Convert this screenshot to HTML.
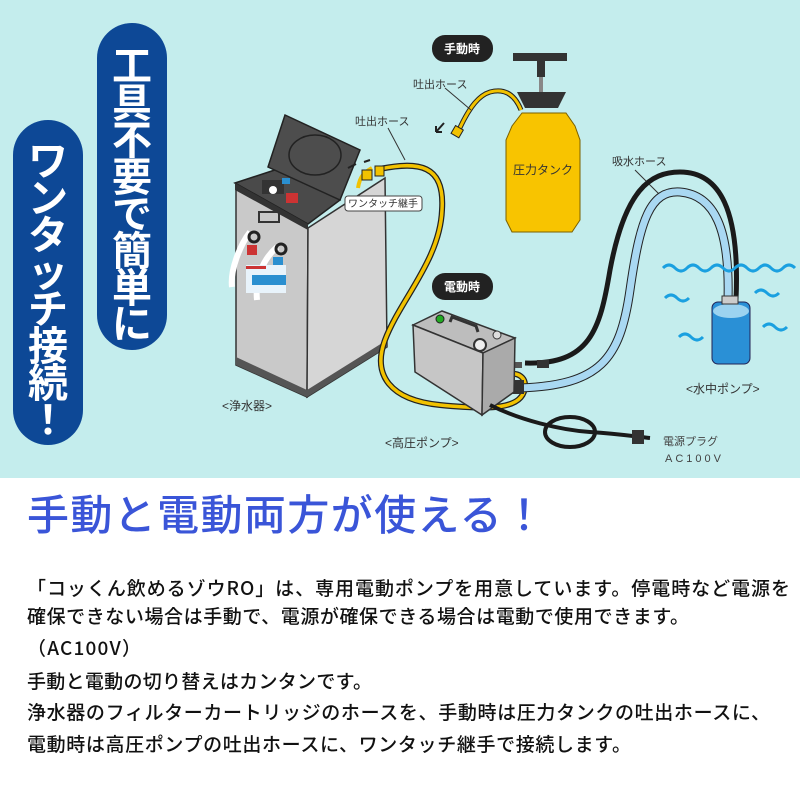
<!DOCTYPE html>
<html><head><meta charset="utf-8"><style>
html,body{margin:0;padding:0;background:#fff;}
svg{display:block}
</style></head><body>
<svg width="800" height="800" viewBox="0 0 800 800" xmlns="http://www.w3.org/2000/svg" font-family="Liberation Sans, Noto Sans CJK JP, sans-serif">
<rect x="0" y="0" width="800" height="478" fill="#c4eded"/>
<rect x="0" y="478" width="800" height="322" fill="#fff"/>

<rect x="97" y="23" width="70" height="327" rx="35" fill="#0d4896"/>
<rect x="13" y="120" width="70" height="325" rx="35" fill="#0d4896"/>
<g fill="#fff" font-size="40" font-weight="bold" text-anchor="middle" font-family="Noto Sans CJK JP, sans-serif">
<text x="132" y="80">工</text><text x="132" y="117">具</text><text x="132" y="154">不</text><text x="132" y="191">要</text><text x="132" y="228">で</text><text x="132" y="265">簡</text><text x="132" y="302">単</text><text x="132" y="338">に</text>
<text x="48" y="175">ワ</text><text x="48" y="212">ン</text><text x="48" y="249">タ</text><text x="48" y="286">ッ</text><text x="48" y="323">チ</text><text x="48" y="360">接</text><text x="48" y="397">続</text><text x="48" y="434">！</text>
</g>

<polygon points="236,188 308,228 307,397 236,365" fill="#c9c9c9" stroke="#333" stroke-width="1.5"/>
<polygon points="308,228 385,178 387,347 307,397" fill="#d6d6d6" stroke="#333" stroke-width="1.5"/>
<polygon points="236,357 307,390 307,397 236,365" fill="#555"/>
<polygon points="307,390 387,340 387,347 307,397" fill="#555"/>
<polygon points="235,183 290,165 340,200 308,224" fill="#4a4a4a" stroke="#222" stroke-width="1.5"/>
<polygon points="235,183 308,224 308,230 235,190" fill="#333"/>
<polygon points="268,167 285,115 360,150 340,200" fill="#4d4d4d" stroke="#222" stroke-width="1.5"/>
<ellipse cx="315" cy="155" rx="26" ry="20" fill="none" stroke="#222" stroke-width="1.5"/>
<rect x="262" y="180" width="22" height="14" fill="#333"/>
<circle cx="273" cy="190" r="4" fill="#fff"/>
<rect x="282" y="178" width="8" height="6" fill="#2a8fd0"/>
<rect x="286" y="193" width="12" height="10" fill="#c33"/>
<rect x="259" y="212" width="20" height="10" fill="none" stroke="#333" stroke-width="2"/>
<path d="M232,287 C230,270 240,245 250,232" stroke="#fff" stroke-width="6" fill="none"/>
<path d="M257,300 C255,280 262,260 277,247" stroke="#fff" stroke-width="6" fill="none"/>
<circle cx="254" cy="237" r="5" fill="none" stroke="#222" stroke-width="3"/>
<circle cx="281" cy="249" r="5" fill="none" stroke="#222" stroke-width="3"/>
<rect x="247" y="245" width="10" height="10" fill="#c33"/>
<rect x="273" y="257" width="10" height="10" fill="#2a8fd0"/>
<rect x="246" y="265" width="40" height="28" fill="#e8f3fb"/>
<rect x="252" y="275" width="34" height="10" fill="#2a8fd0"/>
<rect x="246" y="266" width="20" height="3" fill="#c33"/>

<path d="M375,170 C420,160 445,165 442,210 C440,260 400,300 385,340 C372,375 390,400 440,405 C490,410 525,410 525,385 C525,370 500,368 488,392" stroke="#222" stroke-width="6" fill="none"/>
<path d="M375,170 C420,160 445,165 442,210 C440,260 400,300 385,340 C372,375 390,400 440,405 C490,410 525,410 525,385 C525,370 500,368 488,392" stroke="#f2c200" stroke-width="3.5" fill="none"/>
<path d="M358,188 C360,175 365,172 372,168" stroke="#f2c200" stroke-width="4" fill="none"/>
<rect x="362" y="170" width="10" height="10" fill="#f2c200" stroke="#222"/>
<rect x="375" y="166" width="9" height="10" fill="#f2c200" stroke="#222"/>
<path d="M458,132 C470,105 480,95 490,92 C505,88 515,95 521,110" stroke="#222" stroke-width="5" fill="none"/>
<path d="M458,132 C470,105 480,95 490,92 C505,88 515,95 521,110" stroke="#f2c200" stroke-width="3" fill="none"/>
<rect x="453" y="127" width="9" height="9" fill="#f2c200" stroke="#222" transform="rotate(30 457 131)"/>
<path d="M444,123 L436,132 M436,132 l0,-6 M436,132 l6,0" stroke="#222" stroke-width="2" fill="none"/>
<path d="M348,168 l8,-4 M370,160 l-6,2" stroke="#222" stroke-width="2"/>
<line x1="388" y1="128" x2="405" y2="160" stroke="#333"/>
<line x1="445" y1="88" x2="471" y2="110" stroke="#333"/>

<rect x="513" y="53" width="54" height="8" fill="#333"/>
<rect x="537" y="61" width="8" height="16" fill="#333"/>
<rect x="539" y="77" width="4" height="16" fill="#888"/>
<polygon points="517,92 566,92 558,108 525,108" fill="#333"/>
<path d="M522,113 L566,113 L575,126 L580,140 L580,220 L572,232 L512,232 L506,220 L506,140 L512,126 Z" fill="#f8c400" stroke="#7a6000" stroke-width="1"/>
<text x="543" y="174" font-size="12" text-anchor="middle" fill="#333">圧力タンク</text>

<rect x="432" y="35" width="61" height="27" rx="13" fill="#222"/>
<text x="462" y="53" font-size="12" font-weight="bold" fill="#fff" text-anchor="middle">手動時</text>
<rect x="432" y="273" width="61" height="27" rx="13" fill="#222"/>
<text x="462" y="291" font-size="12" font-weight="bold" fill="#fff" text-anchor="middle">電動時</text>
<text x="413" y="88" font-size="11" fill="#333">吐出ホース</text>
<text x="355" y="125" font-size="11" fill="#333">吐出ホース</text>
<rect x="345" y="196" width="77" height="15" rx="3" fill="#fff" stroke="#444"/>
<text x="383" y="207" font-size="10" fill="#333" text-anchor="middle">ワンタッチ継手</text>
<text x="612" y="165" font-size="11" fill="#333">吸水ホース</text>
<line x1="635" y1="170" x2="660" y2="195" stroke="#333"/>

<path d="M525,363 C590,365 600,330 610,270 C625,190 650,172 680,172 C720,172 740,210 736,300" stroke="#1a1a1a" stroke-width="5" fill="none"/>
<path d="M520,388 C600,385 620,360 630,290 C640,220 650,190 680,192 C715,195 730,230 728,300" stroke="#222" stroke-width="9" fill="none"/>
<path d="M520,388 C600,385 620,360 630,290 C640,220 650,190 680,192 C715,195 730,230 728,300" stroke="#a9d8f2" stroke-width="7" fill="none"/>
<rect x="537" y="360" width="12" height="8" fill="#333"/>
<rect x="512" y="362" width="10" height="6" fill="#555"/>
<rect x="512" y="380" width="12" height="14" fill="#333"/>

<polygon points="413,325 442,311 515,338 483,353" fill="#bdbdbd" stroke="#333" stroke-width="1.5"/>
<polygon points="413,325 483,353 482,415 415,372" fill="#c6c6c6" stroke="#333" stroke-width="1.5"/>
<polygon points="483,353 515,338 514,392 482,415" fill="#aaa" stroke="#333" stroke-width="1.5"/>
<circle cx="440" cy="319" r="4" fill="#2a2" stroke="#222"/>
<path d="M450,322 L452,317 L476,326 L478,332" stroke="#333" stroke-width="3" fill="none"/>
<circle cx="480" cy="345" r="6" fill="#eee" stroke="#333" stroke-width="2"/>
<circle cx="497" cy="335" r="4" fill="#ddd" stroke="#333"/>
<path d="M490,405 C520,420 560,430 590,432 C620,434 640,437 650,438" stroke="#1a1a1a" stroke-width="4" fill="none"/>
<ellipse cx="570" cy="432" rx="25" ry="15" fill="none" stroke="#1a1a1a" stroke-width="4"/>
<rect x="632" y="430" width="12" height="14" fill="#333"/>
<text x="663" y="445" font-size="11" fill="#444">電源プラグ</text>
<text x="665" y="462" font-size="11" fill="#444" letter-spacing="3">AC100V</text>

<rect x="712" y="302" width="38" height="62" rx="6" fill="#2a90d6" stroke="#225" stroke-width="1"/>
<ellipse cx="731" cy="311" rx="18" ry="7" fill="#9cd3f0"/>
<rect x="722" y="296" width="16" height="8" fill="#ccc" stroke="#333"/>
<g stroke="#1aa0e0" stroke-width="3" fill="none">
<path d="M663,268 q6,-6 12,0 t12,0 t12,0 t12,0 t12,0 t12,0 t12,0 t12,0 t12,0 t12,0 t12,0"/>
<path d="M665,298 q6,-6 12,0 t12,0"/>
<path d="M755,293 q6,-6 12,0 t12,0"/>
<path d="M679,337 q6,-6 12,0 t12,0"/>
<path d="M763,327 q6,-6 12,0 t12,0"/>
</g>

<text x="222" y="410" font-size="12" fill="#333">&lt;浄水器&gt;</text>
<text x="385" y="447" font-size="12" fill="#333">&lt;高圧ポンプ&gt;</text>
<text x="686" y="393" font-size="12" fill="#333">&lt;水中ポンプ&gt;</text>

<text x="27" y="530" font-size="42" font-weight="500" fill="#3a55d8" textLength="518" font-family="Noto Sans CJK JP, sans-serif">手動と電動両方が使える！</text>
<g font-size="19" fill="#111" font-weight="500" font-family="Noto Sans CJK JP, sans-serif">
<text x="27" y="595" textLength="763">「コッくん飲めるゾウRO」は、専用電動ポンプを用意しています。停電時など電源を</text>
<text x="27" y="623" textLength="662">確保できない場合は手動で、電源が確保できる場合は電動で使用できます。</text>
<text x="27" y="655" textLength="114">（AC100V）</text>
<text x="27" y="688" textLength="345">手動と電動の切り替えはカンタンです。</text>
<text x="27" y="719" textLength="743">浄水器のフィルターカートリッジのホースを、手動時は圧力タンクの吐出ホースに、</text>
<text x="27" y="751" textLength="604">電動時は高圧ポンプの吐出ホースに、ワンタッチ継手で接続します。</text>
</g>
</svg>
</body></html>
